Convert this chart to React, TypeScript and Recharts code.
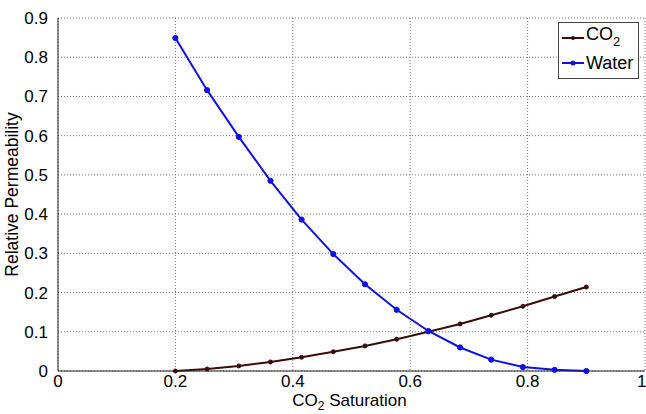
import React from 'react'
import { LineChart, Line, XAxis, YAxis, CartesianGrid } from 'recharts'

const saturation = [0.2, 0.254, 0.308, 0.362, 0.415, 0.469, 0.523, 0.577, 0.631, 0.685, 0.738, 0.792, 0.846, 0.9]
const co2 = [0.0, 0.005, 0.013, 0.023, 0.035, 0.049, 0.064, 0.081, 0.1, 0.12, 0.142, 0.165, 0.19, 0.214]
const water = [0.849, 0.716, 0.597, 0.485, 0.386, 0.298, 0.221, 0.156, 0.102, 0.06, 0.029, 0.01, 0.003, 0.0]
const xTicks = [0, 0.2, 0.4, 0.6, 0.8, 1]
const yTicks = [0, 0.1, 0.2, 0.3, 0.4, 0.5, 0.6, 0.7, 0.8, 0.9]

const data = saturation.map((s, i) => ({ s, co2: co2[i], water: water[i] }))

const FONT = '"Liberation Sans", Arial, sans-serif'
const CO2_COLOR = '#3a0c0c'
const WATER_COLOR = '#1010e6'

function LegendBox() {
  const row = (color: string, r: number, label: React.ReactNode) => (
    <div style={{ display: 'flex', alignItems: 'center', height: 25 }}>
      <svg width={24} height={10} style={{ marginRight: 1 }}>
        <line x1={1} y1={5} x2={23} y2={5} stroke={color} strokeWidth={2} />
        <circle cx={12} cy={5} r={r} fill={color} />
      </svg>
      <span>{label}</span>
    </div>
  )
  return (
    <div style={{
      position: 'absolute', left: 558, top: 22, width: 77, padding: '2px 0 3px 2px',
      border: '1px solid #444', background: '#fff',
      fontFamily: FONT, fontSize: 18, color: '#000', lineHeight: '18px',
    }}>
      {row(CO2_COLOR, 2, <>CO<sub style={{ fontSize: 13, verticalAlign: -6 }}>2</sub></>)}
      {row(WATER_COLOR, 2.5, 'Water')}
    </div>
  )
}

function XLabel(props: any) {
  const { viewBox } = props
  const cx = viewBox.x + viewBox.width / 2
  return (
    <text x={cx - 2} y={406} textAnchor="middle" fontFamily={FONT} fontSize={17} fill="#000">
      CO<tspan fontSize={12} dy={4}>2</tspan><tspan dy={-4}> Saturation</tspan>
    </text>
  )
}

export default function App() {
  return (
    <div style={{ position: 'absolute', left: 0, top: 0, width: 646, height: 414, background: '#fff' }}>
      <LineChart width={646} height={414} data={data} margin={{ top: 18, right: 1, bottom: 0, left: 0 }}>
        <CartesianGrid xAxisId="b" yAxisId="l" stroke="#777" strokeDasharray="1 2" />
        <XAxis
          xAxisId="b"
          dataKey="s"
          type="number"
          domain={[0, 1]}
          ticks={xTicks}
          tickFormatter={(v) => String(v)}
          height={43}
          axisLine={{ stroke: '#222' }}
          tickLine={false}
          tickSize={3}
          tickMargin={1}
          tick={{ fontFamily: FONT, fontSize: 17, fill: '#000' }}
          label={<XLabel />}
        />
        <XAxis xAxisId="t" orientation="top" type="number" domain={[0, 1]} ticks={xTicks} height={0} tick={false} tickLine={false} axisLine={{ stroke: '#222' }} />
        <YAxis
          yAxisId="l"
          type="number"
          domain={[0, 0.9]}
          ticks={yTicks}
          tickFormatter={(v) => String(v)}
          width={58}
          axisLine={{ stroke: '#222' }}
          tickLine={false}
          tickMargin={4}
          tick={{ fontFamily: FONT, fontSize: 17, fill: '#000' }}
          label={{ value: 'Relative Permeability', angle: -90, position: 'insideLeft', offset: 12, style: { fontFamily: FONT, fontSize: 17.5, fill: '#000', textAnchor: 'middle' } }}
        />
        <YAxis yAxisId="r" orientation="right" type="number" domain={[0, 0.9]} ticks={yTicks} width={0} tick={false} tickLine={false} axisLine={{ stroke: '#222' }} />
        <Line
          xAxisId="b" yAxisId="l" dataKey="co2" name="CO2" type="linear"
          stroke={CO2_COLOR} strokeWidth={2}
          dot={{ r: 2, fill: CO2_COLOR, stroke: CO2_COLOR, strokeWidth: 1 }}
          isAnimationActive={false}
        />
        <Line
          xAxisId="b" yAxisId="l" dataKey="water" name="Water" type="linear"
          stroke={WATER_COLOR} strokeWidth={2}
          dot={{ r: 2.6, fill: WATER_COLOR, stroke: WATER_COLOR, strokeWidth: 1 }}
          isAnimationActive={false}
        />
      </LineChart>
      <LegendBox />
    </div>
  )
}
